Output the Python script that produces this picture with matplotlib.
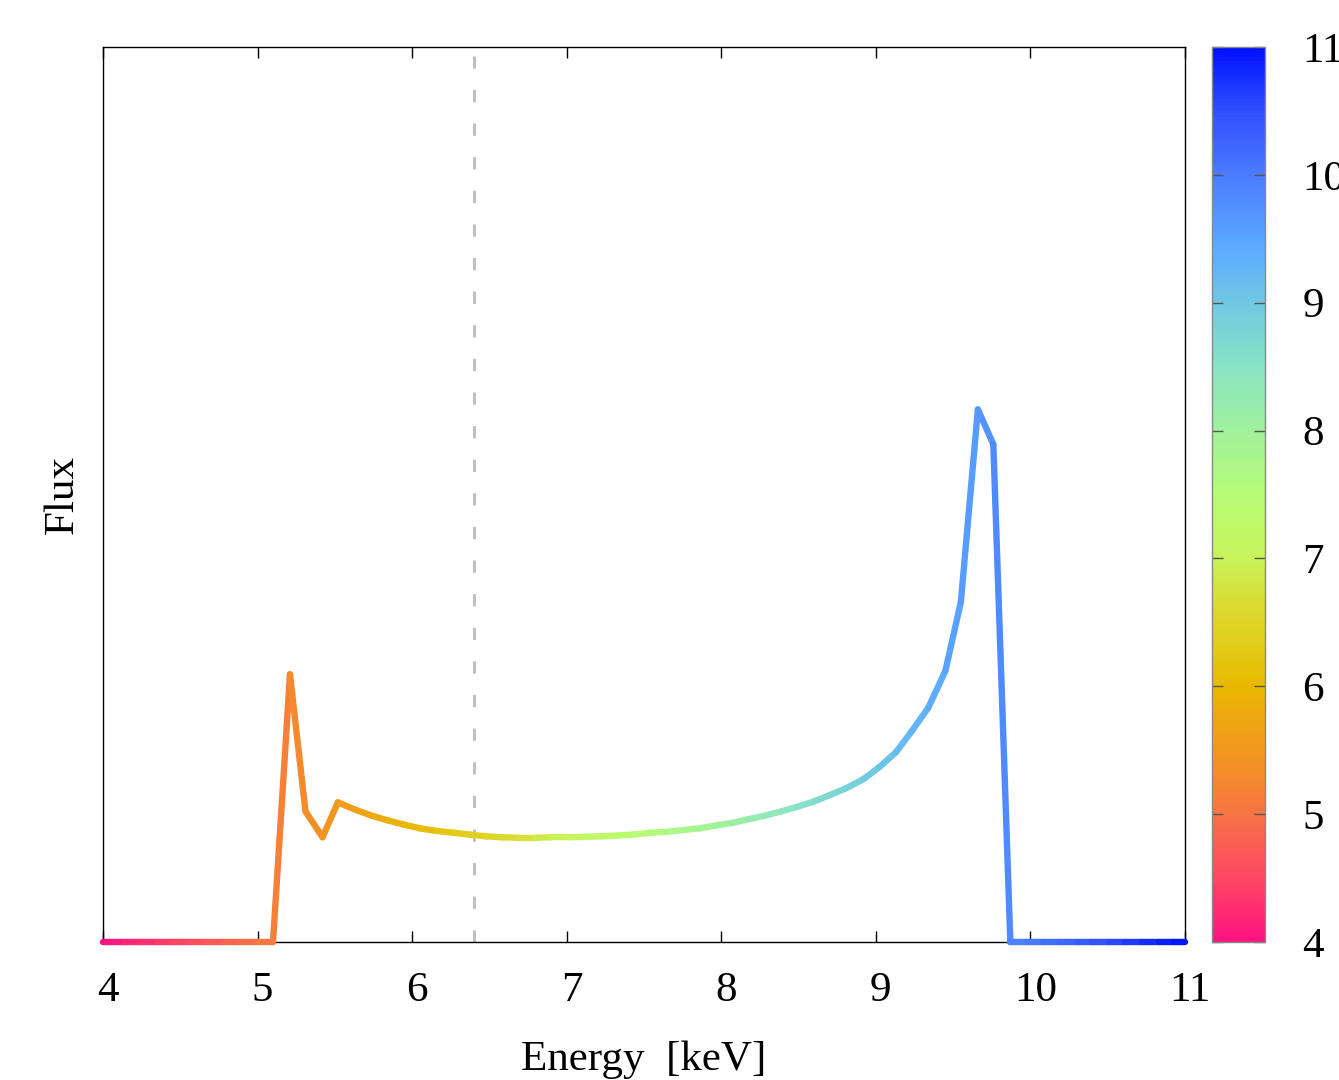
import matplotlib
matplotlib.use("Agg")
import matplotlib.pyplot as plt
import matplotlib.transforms as mtransforms
import numpy as np
from matplotlib.collections import LineCollection
from matplotlib.colors import LinearSegmentedColormap, Normalize
from matplotlib.cm import ScalarMappable

plt.rcParams.update({"font.family": ["Liberation Serif", "DejaVu Serif"], "font.size": 31})

# energy grid [keV] and flux (arbitrary units)
energy = [4.00, 4.04, 4.14, 4.25, 4.35, 4.46, 4.57, 4.67, 4.78, 4.88, 4.99,
          5.10, 5.21, 5.31, 5.42, 5.52, 5.63, 5.74, 5.84, 5.95, 6.05, 6.16,
          6.27, 6.37, 6.48, 6.58, 6.69, 6.80, 6.90, 7.01, 7.11, 7.22, 7.33,
          7.43, 7.54, 7.64, 7.75, 7.86, 7.96, 8.07, 8.17, 8.28, 8.39, 8.49,
          8.60, 8.70, 8.81, 8.92, 9.02, 9.13, 9.23, 9.34, 9.45, 9.55, 9.66,
          9.76, 9.87, 9.98, 10.08, 10.19, 10.30, 10.40, 10.51, 10.61, 10.72,
          10.83, 10.93, 11.00]
flux = [0, 0, 0, 0, 0, 0, 0, 0, 0, 0, 0,
        0, 0.299, 0.146, 0.117, 0.156, 0.148, 0.141, 0.136, 0.131, 0.127, 0.124,
        0.122, 0.120, 0.118, 0.117, 0.1165, 0.1165, 0.117, 0.117, 0.1175, 0.118, 0.119,
        0.120, 0.122, 0.123, 0.125, 0.127, 0.130, 0.133, 0.137, 0.141, 0.146, 0.151,
        0.157, 0.164, 0.172, 0.182, 0.195, 0.212, 0.235, 0.262, 0.303, 0.380, 0.595,
        0.556, 0, 0, 0, 0, 0, 0, 0, 0, 0,
        0, 0, 0]
line_energy = 6.4
cbar_ticks = [4, 5, 6, 7, 8, 9, 10, 11]

# palette sampled from the colour bar (energy -> colour)
pal_e = [4.0, 4.5, 5.0, 5.25, 5.5, 5.75, 6.0, 6.3, 6.6, 7.0, 7.5,
         8.0, 8.5, 9.0, 9.4, 10.0, 10.5, 11.0]
pal_c = ["#ff1282", "#fd4862", "#f87445", "#f5882e", "#f2981e", "#eda812", "#e8b800",
         "#e2cc18", "#dcd830", "#c8f45a", "#b6fc76", "#a0f29c", "#88e4c4", "#70c8e2",
         "#5cadff", "#4a7cff", "#3050ff", "#0010ff"]
cmap = LinearSegmentedColormap.from_list(
    "spec", [((v - 4) / 7, c) for v, c in zip(pal_e, pal_c)])
norm = Normalize(4, 11)

fig = plt.figure(figsize=(13.39, 10.8), dpi=100)
ax = fig.add_axes([0.0769, 0.1278, 0.8081, 0.8287])
cax = fig.add_axes([0.905, 0.1278, 0.0398, 0.8287])

e = np.array(energy); f = np.array(flux)
pts = np.column_stack([e, f]).reshape(-1, 1, 2)
segs = np.concatenate([pts[:-1], pts[1:]], axis=1)
lc = LineCollection(segs, cmap=cmap, norm=norm, linewidths=4.6, capstyle="round",
                    clip_on=False, zorder=3)
lc.set_array(0.5 * (e[:-1] + e[1:]))
ax.add_collection(lc)

ax.axvline(line_energy, color="#c0c0c0", lw=2.2, ls=(0, (4, 7)), zorder=1)

ax.set_xlim(4, 11)
ax.set_ylim(0, 1.0)
ax.set_xticks(range(4, 12))
ax.set_yticks([])
ax.tick_params(axis="x", direction="in", top=True, length=8, width=1, pad=21)
# gnuplot-style labels sit a little right of their ticks
shift = mtransforms.ScaledTranslation(5 / 100, 0, fig.dpi_scale_trans)
for lab in ax.get_xticklabels():
    lab.set_transform(lab.get_transform() + shift)
for s in ax.spines.values():
    s.set_linewidth(1.0)
ax.set_xlabel("Energy  [keV]", labelpad=22)
ax.set_ylabel("Flux", labelpad=15)

cb = fig.colorbar(ScalarMappable(norm=norm, cmap=cmap), cax=cax)
cb.set_ticks(cbar_ticks)
cb.outline.set_edgecolor("#888888")
cb.outline.set_linewidth(1.0)
cax.tick_params(direction="in", left=True, right=True, length=8, width=1,
                color="#555555", pad=27)

fig.savefig("out.png", dpi=100)
